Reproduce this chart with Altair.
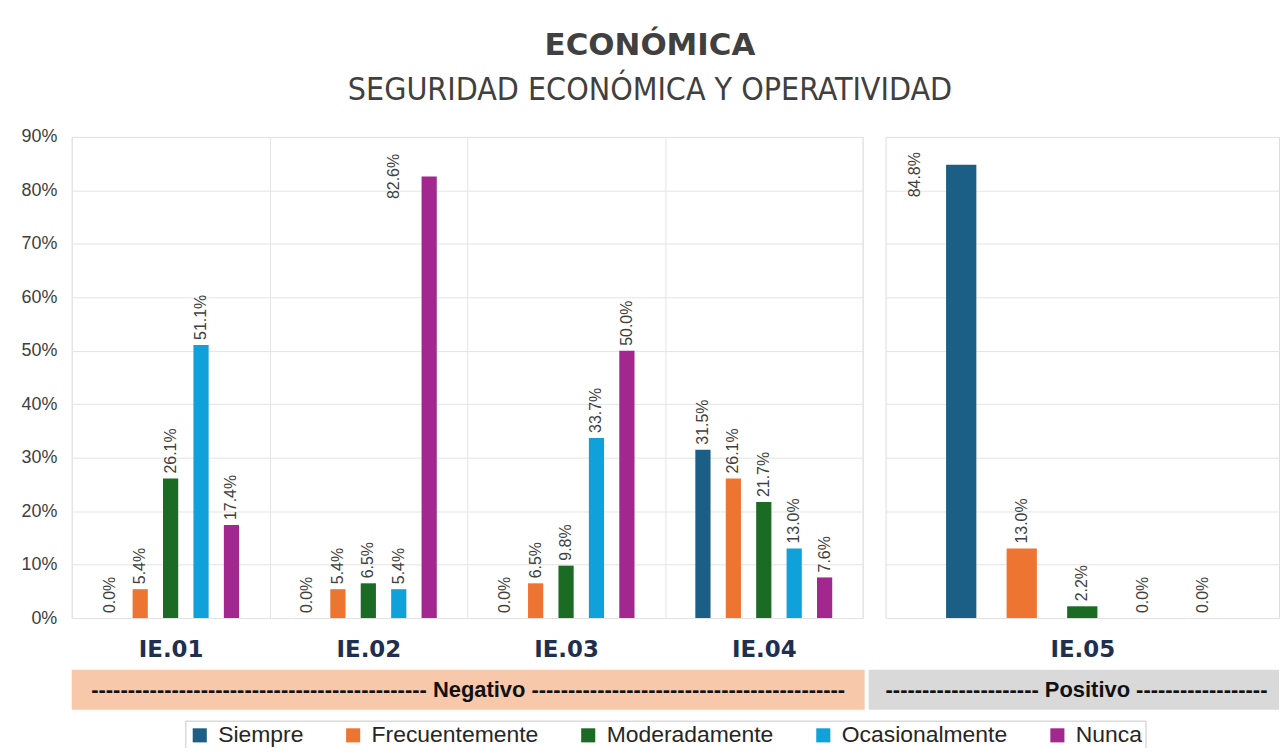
import altair as alt
import pandas as pd

grupos_neg = ["IE.01", "IE.02", "IE.03", "IE.04"]
grupos_pos = ["IE.05"]
categorias = ["Siempre", "Frecuentemente", "Moderadamente", "Ocasionalmente", "Nunca"]
colores = ["#1b5f86", "#ee7431", "#1c6b24", "#11a1da", "#a2278f"]

ie01 = [0.0, 5.4, 26.1, 51.1, 17.4]
ie02 = [0.0, 5.4, 6.5, 5.4, 82.6]
ie03 = [0.0, 6.5, 9.8, 33.7, 50.0]
ie04 = [31.5, 26.1, 21.7, 13.0, 7.6]
ie05 = [84.8, 13.0, 2.2, 0.0, 0.0]

y_ticks = [0, 10, 20, 30, 40, 50, 60, 70, 80, 90]

banda_neg = "-" * 46 + " Negativo " + "-" * 43
banda_pos = "-" * 21 + " Positivo " + "-" * 18


def tabla(grupos, series):
    rows = []
    for g, vals in zip(grupos, series):
        for c, v in zip(categorias, vals):
            rows.append({"grupo": g, "cat": c, "v": v / 100.0})
    return pd.DataFrame(rows)


dfL = tabla(grupos_neg, [ie01, ie02, ie03, ie04])
dfR = tabla(grupos_pos, [ie05])

W_L, W_R, H = 794, 395, 483
GRID = "#e4e4e4"
TXT = "#404040"
FONT = "Liberation Sans"

yscale = alt.Scale(domain=[0, 0.9], nice=False)
color = alt.Color(
    "cat:N",
    sort=categorias,
    scale=alt.Scale(domain=categorias, range=colores),
    legend=alt.Legend(
        title=None,
        orient="none",
        legendX=114,
        legendY=586,
        direction="horizontal",
        symbolType="square",
        symbolSize=200,
        symbolStrokeWidth=0,
        labelFontSize=23,
        labelFont=FONT,
        labelColor="#262626",
        labelLimit=0,
        columnPadding=38,
        labelOffset=7,
        padding=3,
        strokeColor="#c8c8c8",
        fillColor="white",
    ),
)


def panel(df, grupos, width, show_y, band_text, band_color, band_x0, band_x1,
          text_x, text_align, big_dx, big_dy):
    x = alt.X(
        "grupo:N",
        sort=grupos,
        scale=alt.Scale(paddingInner=0, paddingOuter=0),
        axis=alt.Axis(
            title=None, tickBand="extent", grid=show_y, gridColor=GRID,
            ticks=False, domain=False, labelAngle=0, labelFontSize=23,
            labelFontWeight="bold", labelColor="#1f2f4f", labelFont="DejaVu Sans",
            labelPadding=21,
        ),
    )
    if show_y:
        yaxis = alt.Axis(
            title=None, values=[t / 100 for t in y_ticks], format=".0%",
            grid=True, gridColor=GRID, ticks=False, domain=False,
            labelFontSize=18, labelColor=TXT, labelFont=FONT, labelPadding=15,
        )
    else:
        yaxis = alt.Axis(
            title=None, values=[t / 100 for t in y_ticks], labels=False,
            grid=True, gridColor=GRID, ticks=False, domain=False,
        )
    y = alt.Y("v:Q", scale=yscale, axis=yaxis)
    xo = alt.XOffset("cat:N", sort=categorias,
                     scale=alt.Scale(paddingInner=0.5, paddingOuter=1))
    base = alt.Chart(df)
    bars = base.mark_bar().encode(x=x, xOffset=xo, y=y, color=color)
    lab = base.transform_filter("datum.v < 0.8").mark_text(
        angle=270, align="left", baseline="middle", dx=5,
        fontSize=16, font=FONT, color=TXT,
    ).encode(x=x, xOffset=xo, y=y, text=alt.Text("v:Q", format=".1%"))
    lab_big = base.transform_filter("datum.v >= 0.8").mark_text(
        angle=270, align="center", baseline="middle", dx=big_dx, dy=big_dy,
        fontSize=16, font=FONT, color=TXT,
    ).encode(x=x, xOffset=xo, y=y, text=alt.Text("v:Q", format=".1%"))
    bdf = pd.DataFrame({"t": [band_text]})
    band = alt.Chart(bdf).mark_rect(color=band_color).encode(
        x=alt.value(band_x0), x2=alt.value(band_x1),
        y=alt.value(H + 52), y2=alt.value(H + 92),
    )
    btxt = alt.Chart(bdf).mark_text(
        fontSize=22, fontWeight="bold", font=FONT, color="#111111",
        align=text_align, baseline="middle",
    ).encode(x=alt.value(text_x), y=alt.value(H + 72), text="t:N")
    return alt.layer(bars, lab, lab_big, band, btxt).properties(
        width=width, height=H
    )


left = panel(dfL, grupos_neg, W_L, True, banda_neg, "#f8c8aa", 0, W_L + 2,
             (W_L + 2) / 2, "center", 0, -35)
right = panel(dfR, grupos_pos, W_R, False, banda_pos, "#d9d9d9", -17, W_R,
              0, "left", -10, -46)

chart = alt.hconcat(left, right, spacing=2).resolve_scale(
    x="independent", xOffset="independent"
).properties(
    title=alt.TitleParams(
        text="ECONÓMICA",
        subtitle="SEGURIDAD ECONÓMICA Y OPERATIVIDAD",
        anchor="middle",
        font="DejaVu Sans",
        fontSize=31,
        fontWeight="bold",
        color=TXT,
        subtitleFont="DejaVu Sans Condensed",
        subtitleFontSize=32,
        subtitleFontWeight="normal",
        subtitleColor=TXT,
        subtitlePadding=13,
        offset=21,
    ),
    padding={"left": 12, "top": 20, "right": 0, "bottom": -5},
).configure_view(stroke=None).configure(font=FONT)

chart.save("out.html", embed_options={"renderer": "svg", "actions": False})
